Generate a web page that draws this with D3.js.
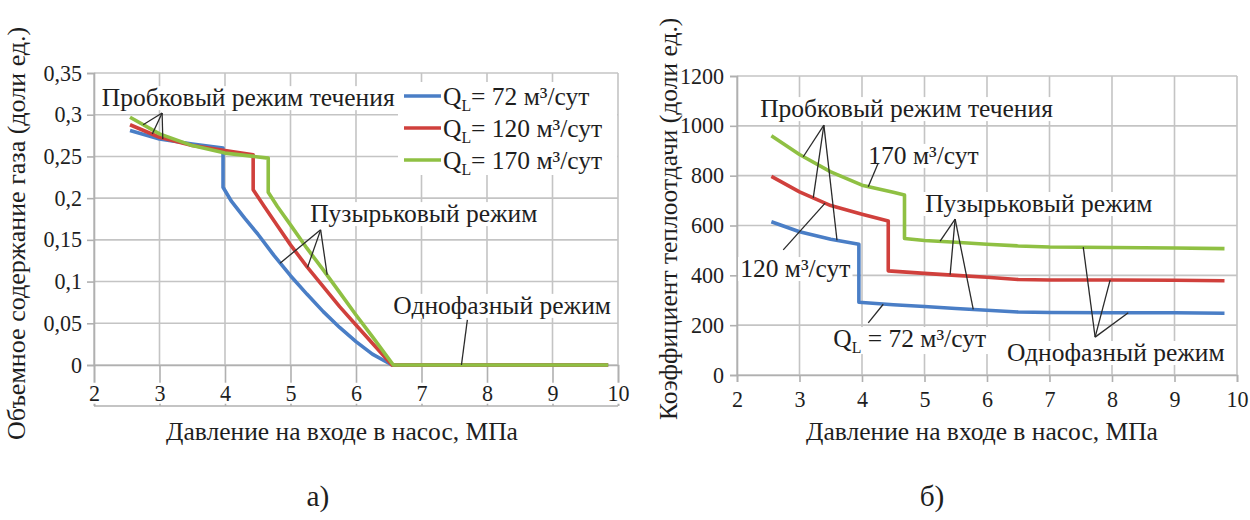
<!DOCTYPE html>
<html><head><meta charset="utf-8">
<script src="https://cdn.jsdelivr.net/npm/d3@7"></script>
<style>
html,body{margin:0;padding:0;background:#fff;}
svg text{font-family:"Liberation Serif","Tinos","Times New Roman","DejaVu Serif","Noto Serif",serif;fill:#1e1e1e;}
</style></head>
<body>
<svg id="c" width="1250" height="520"></svg>
<script>
// ---------------- DATA ----------------
const xTicks = [2,3,4,5,6,7,8,9,10];
const leftYTicks = [0,0.05,0.1,0.15,0.2,0.25,0.3,0.35];
const rightYTicks = [0,200,400,600,800,1000,1200];
const seriesNames = ["72","120","170"];

// а) gas volume fraction vs inlet pressure
const gasX72  = [2.55,3.0,3.5,3.97,3.97,4.1,4.3,4.5,4.75,5.0,5.25,5.5,5.75,6.0,6.25,6.55,9.85];
const gasY72  = [0.281,0.271,0.265,0.260,0.213,0.196,0.176,0.157,0.131,0.107,0.085,0.064,0.045,0.028,0.013,0,0];
const gasX120 = [2.55,3.0,3.5,4.0,4.43,4.43,4.6,4.8,5.0,5.25,5.5,5.75,6.0,6.25,6.55,9.85];
const gasY120 = [0.288,0.273,0.263,0.257,0.252,0.210,0.190,0.167,0.144,0.118,0.094,0.070,0.048,0.026,0,0];
const gasX170 = [2.55,3.0,3.5,4.0,4.66,4.66,4.8,5.0,5.25,5.5,5.75,6.0,6.25,6.57,9.85];
const gasY170 = [0.297,0.277,0.263,0.254,0.248,0.207,0.190,0.168,0.140,0.114,0.087,0.060,0.034,0,0];

// б) heat transfer coefficient vs inlet pressure
const htX72  = [2.55,3.0,3.5,3.95,3.95,4.5,5.0,5.5,6.0,6.5,7.0,8.0,9.0,9.8];
const htY72  = [615,575,545,525,292,282,275,267,260,253,251,250,250,248];
const htX120 = [2.55,3.0,3.5,4.0,4.42,4.42,5.0,5.5,6.0,6.5,7.0,8.0,9.0,9.8];
const htY120 = [797,735,680,645,618,418,408,400,392,383,381,381,380,378];
const htX170 = [2.55,3.0,3.5,4.0,4.5,4.68,4.68,5.0,5.5,6.0,6.5,7.0,8.0,9.0,9.8];
const htY170 = [960,885,815,762,733,722,548,540,533,525,518,514,512,510,507];

const xTitle = "Давление на входе в насос, МПа";
const yTitleL = "Объемное содержание газа (доли ед.)";
const yTitleR = "Коэффициент теплоотдачи (доли ед.)";

// ---------------- STYLE / LAYOUT ----------------
const FONT = '"Liberation Serif","Tinos","Times New Roman","DejaVu Serif","Noto Serif",serif';
const colors = {"72":"#4a7ec6","120":"#d0403c","170":"#8fc043"};
const gridColor = "#c4c4c4";
const axisColor = "#b0b0b0";
const svg = d3.select("#c");
const locale = d3.formatLocale({decimal:",",thousands:" ",grouping:[3],currency:["",""]});
const fmtComma = locale.format("~g");

// calibrate font size to the reference width of the axis title (352 px)
const probe = svg.append("text").attr("font-size",26).text(xTitle);
const k = Math.max(0.8,Math.min(1.2,352/probe.node().getComputedTextLength()));
probe.remove();
const F = 26*k;          // annotation / title size
const TF = 22.5*k;       // tick label size

const xL = d3.scaleLinear().domain([2,10]).range([94,618]);
const yL = d3.scaleLinear().domain([0,0.35]).range([365,73]);
const xR = d3.scaleLinear().domain([2,10]).range([737,1237]);
const yR = d3.scaleLinear().domain([0,1200]).range([375,76]);

function zip(xs,ys){return xs.map((x,i)=>[x,ys[i]]);}

function drawFrame(x,y,yTicks,yFmt,opts){
  const g = svg.append("g");
  const [x0,x1] = x.range(); const [y0,y1] = y.range();
  g.selectAll(".gv").data(xTicks).join("line")
    .attr("x1",d=>x(d)).attr("x2",d=>x(d)).attr("y1",y1).attr("y2",y0)
    .attr("stroke",gridColor).attr("stroke-width",1.6);
  g.selectAll(".gh").data(yTicks).join("line")
    .attr("x1",x0).attr("x2",x1).attr("y1",d=>y(d)).attr("y2",d=>y(d))
    .attr("stroke",gridColor).attr("stroke-width",1.6);
  const ya = svg.append("g").attr("transform",`translate(${x0},0)`)
    .call(d3.axisLeft(y).tickValues(yTicks).tickFormat(yFmt).tickSize(7).tickPadding(opts.yPad));
  ya.attr("font-family",FONT);
  ya.select(".domain").attr("stroke",axisColor).attr("stroke-width",1.6);
  ya.selectAll(".tick line").attr("stroke",axisColor).attr("stroke-width",1.6);
  ya.selectAll("text").attr("font-size",TF).attr("fill","#1e1e1e");
  const xa = svg.append("g").attr("transform",`translate(0,${y0})`)
    .call(d3.axisBottom(x).tickValues(xTicks).tickFormat(d3.format("d")).tickSize(opts.xTickLen).tickPadding(opts.xPad));
  xa.attr("font-family",FONT);
  xa.select(".domain").attr("stroke",axisColor).attr("stroke-width",1.6);
  xa.selectAll(".tick line").attr("stroke",axisColor).attr("stroke-width",1.6);
  xa.selectAll("text").attr("font-size",TF).attr("fill","#1e1e1e");
  if(opts.bottomLine){
    xa.selectAll(".tick text").attr("y",opts.labelY).attr("dy","0.35em");
    svg.append("line").attr("x1",x0).attr("x2",x1).attr("y1",y0+opts.xTickLen).attr("y2",y0+opts.xTickLen)
      .attr("stroke",axisColor).attr("stroke-width",1.6);
    xa.selectAll(".tick").each(function(){
      const t = d3.select(this).select("text").node().getBBox();
      d3.select(this).insert("rect","text").attr("x",t.x-1).attr("y",t.y+2).attr("width",t.width+2).attr("height",t.height-4).attr("fill","#fff");
    });
  }
}

function drawSeries(x,y,xs,ys,color){
  svg.append("path").datum(zip(xs,ys))
    .attr("fill","none").attr("stroke",color).attr("stroke-width",3.6)
    .attr("stroke-linejoin","round").attr("stroke-linecap","butt")
    .attr("d",d3.line().x(d=>x(d[0])).y(d=>y(d[1])));
}

function label(x,y,px,py,parts){
  const g = svg.append("g");
  const rect = g.append("rect").attr("fill","#fff");
  const t = g.append("text").attr("x",x(px)).attr("y",y(py)).attr("dy","0.35em").attr("font-size",F);
  parts.forEach(p=>{
    const s = t.append("tspan").text(p.t);
    if(p.sub){s.attr("font-size",F*0.62).attr("dy",6);}
    if(p.back){s.attr("dy",-6);}
  });
  const b = t.node().getBBox();
  rect.attr("x",b.x-2).attr("y",b.y+3).attr("width",b.width+4).attr("height",b.height-5);
  return g;
}

function leaders(x,y,from,tos){
  tos.forEach(p=>{
    svg.append("line").attr("x1",x(from[0])).attr("y1",y(from[1])).attr("x2",x(p[0])).attr("y2",y(p[1]))
      .attr("stroke","#2a2a2a").attr("stroke-width",1.3);
  });
}

// ---------- chart a ----------
drawFrame(xL,yL,leftYTicks,fmtComma,{yPad:5,xPad:8,xTickLen:41,labelY:28,bottomLine:true});
drawSeries(xL,yL,gasX72,gasY72,colors["72"]);
drawSeries(xL,yL,gasX120,gasY120,colors["120"]);
drawSeries(xL,yL,gasX170,gasY170,colors["170"]);

const legY = [96,128,160];
svg.append("rect").attr("x",398).attr("y",82).attr("width",219).attr("height",93).attr("fill","#fff");
seriesNames.forEach((n,i)=>{
  svg.append("line").attr("x1",404).attr("x2",441).attr("y1",legY[i]).attr("y2",legY[i])
    .attr("stroke",colors[n]).attr("stroke-width",3.6);
  const t = svg.append("text").attr("x",443).attr("y",legY[i]).attr("dy","0.35em").attr("font-size",F);
  t.append("tspan").text("Q");
  t.append("tspan").text("L").attr("font-size",F*0.62).attr("dy",6);
  t.append("tspan").text("= "+n+" м³/сут").attr("dy",-6);
});

label(xL,yL,2.12,0.321,[{t:"Пробковый режим течения"}]);
leaders(xL,yL,[3.04,0.302],[[2.75,0.288],[2.89,0.277],[3.05,0.271]]);
label(xL,yL,5.30,0.182,[{t:"Пузырьковый режим"}]);
leaders(xL,yL,[5.46,0.162],[[4.84,0.122],[5.26,0.117],[5.56,0.108]]);
label(xL,yL,6.57,0.072,[{t:"Однофазный режим"}]);
leaders(xL,yL,[7.70,0.054],[[7.61,0]]);

svg.append("text").attr("x",342).attr("y",431).attr("dy","0.35em").attr("text-anchor","middle")
  .attr("font-size",F).text(xTitle);
svg.append("text").attr("transform","translate(25,440) rotate(-90)").attr("text-anchor","start")
  .attr("font-size",F*1.02).text(yTitleL);

// ---------- chart б ----------
drawFrame(xR,yR,rightYTicks,d3.format("d"),{yPad:6,xPad:9,xTickLen:7,bottomLine:false});
drawSeries(xR,yR,htX72,htY72,colors["72"]);
drawSeries(xR,yR,htX120,htY120,colors["120"]);
drawSeries(xR,yR,htX170,htY170,colors["170"]);

label(xR,yR,2.37,1071,[{t:"Пробковый режим течения"}]);
leaders(xR,yR,[3.39,1003],[[3.06,876],[3.22,711],[3.6,541]]);
label(xR,yR,2.05,429,[{t:"120 м³/сут"}]);
leaders(xR,yR,[2.74,502],[[3.41,690]]);
label(xR,yR,4.10,883,[{t:"170 м³/сут"}]);
leaders(xR,yR,[4.26,851],[[4.10,756]]);
label(xR,yR,5.01,690,[{t:"Пузырьковый режим"}]);
leaders(xR,yR,[5.49,626],[[5.25,537],[5.41,403],[5.78,263]]);
label(xR,yR,3.54,148,[{t:"Q"},{t:"L",sub:true},{t:" = 72 м³/сут",back:true}]);
leaders(xR,yR,[4.10,209],[[4.34,284]]);
label(xR,yR,6.32,92,[{t:"Однофазный режим"}]);
leaders(xR,yR,[7.73,152],[[7.54,513],[7.97,381],[8.26,250]]);

svg.append("text").attr("x",982).attr("y",431).attr("dy","0.35em").attr("text-anchor","middle")
  .attr("font-size",F).text(xTitle);
svg.append("text").attr("transform","translate(677,420) rotate(-90)").attr("text-anchor","start")
  .attr("font-size",F).text(yTitleR);

svg.append("text").attr("x",318).attr("y",506).attr("text-anchor","middle").attr("font-size",F*1.15).text("а)");
svg.append("text").attr("x",932).attr("y",506).attr("text-anchor","middle").attr("font-size",F*1.15).text("б)");
</script>
</body></html>
